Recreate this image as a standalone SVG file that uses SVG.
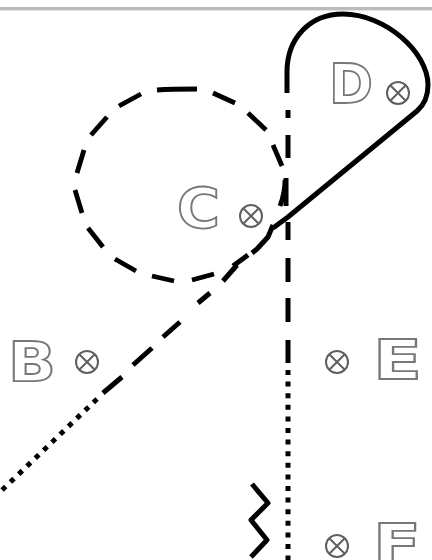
<svg xmlns="http://www.w3.org/2000/svg" width="432" height="560" viewBox="0 0 432 560">
<style>
.l{font-family:"DejaVu Sans","Liberation Sans",sans-serif;font-weight:700;font-size:55px;fill:#fff;stroke:#777;stroke-width:1.8}
.x{fill:none;stroke:#606060;stroke-width:2}
.t{fill:none;stroke:#000;stroke-width:4.8}
.c{fill:none;stroke:#000;stroke-width:5;stroke-linejoin:round}
</style>
<defs>
<filter id="s" x="-5%" y="-5%" width="110%" height="110%"><feGaussianBlur stdDeviation="0.6"/></filter>
<g id="m"><circle r="11" class="x"/><path class="x" d="M-7.5-7.5 7.5 7.5M7.5-7.5-7.5 7.5"/></g>
</defs>
<rect width="432" height="560" fill="#fff"/>
<g filter="url(#s)">
<rect x="0" y="7" width="432" height="3.4" fill="#bbb"/>
<g id="connectors">
<path class="c" d="M287 93V72C287 38 310 14 343 14C385 14 428 52 428 85C428 98 424 105 417 111L288 217L273 228"/>
<path class="c" d="M273 225L268 237L257 249L252 253M248 255L233 266M237 265L223 281M210 293L198 303M180 322L163 337M152 348L133 365M122 377L103 393"/>
<path class="c" d="M97 399L0 492" stroke-dasharray="5 6.5"/>
<path class="t" d="M157 90C170 89 185 89 197 89M213 93L235 103M248 113L266 130M273 145L282 166M285 180C285 190 283 198 280 206M141 94L119 106M107 117L91 135M84 150L77 173M75 190L82 213M88 228L103 247M115 259L136 271M152 276L174 281M192 280L214 274"/>
<path class="c" d="M288 110V118M288 135V158M286 178V206M288 222V240M288 258V282M288 298V322M288 340V363"/>
<path class="c" stroke-width="5" d="M288 370V560" stroke-dasharray="5 6.6"/>
<path class="c" d="M252 484L268 503L251 520L267 540L251 557"/>
</g>
<g id="node-b"><text class="l" x="8" y="381" textLength="48" lengthAdjust="spacingAndGlyphs">B</text><use href="#m" x="87" y="362"/></g>
<g id="node-c"><text class="l" x="177" y="227" textLength="43" lengthAdjust="spacingAndGlyphs">C</text><use href="#m" x="251" y="216"/></g>
<g id="node-d"><text class="l" x="329" y="103" textLength="44" lengthAdjust="spacingAndGlyphs">D</text><use href="#m" x="398" y="93"/></g>
<g id="node-e"><text class="l" x="373" y="379" textLength="49" lengthAdjust="spacingAndGlyphs">E</text><use href="#m" x="337" y="362"/></g>
<g id="node-f"><text class="l" x="373" y="563" textLength="48" lengthAdjust="spacingAndGlyphs">F</text><use href="#m" x="337" y="546"/></g>
</g>
</svg>
